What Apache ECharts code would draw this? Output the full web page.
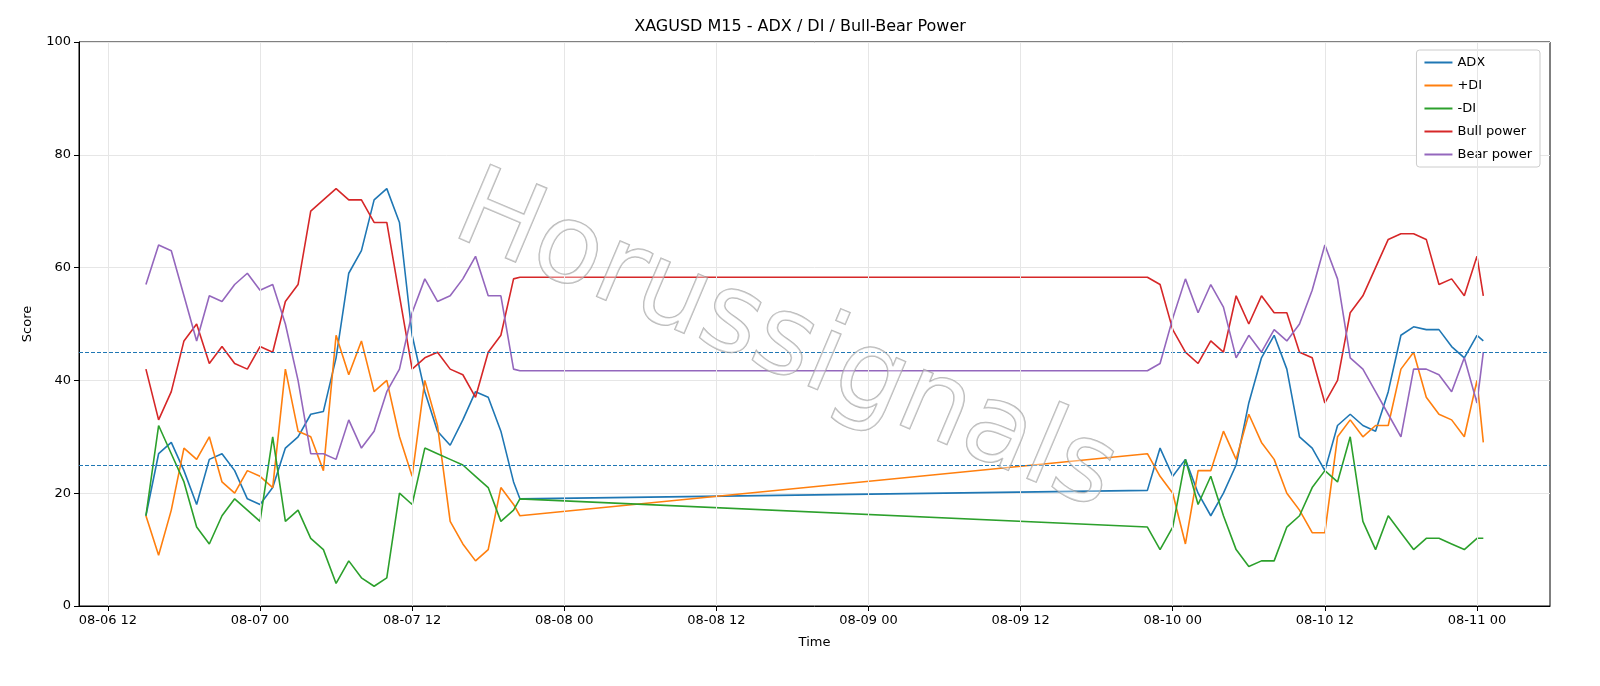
<!DOCTYPE html>
<html><head><meta charset="utf-8">
<script src="https://cdn.jsdelivr.net/npm/echarts@6/dist/echarts.min.js"></script>
<style>html,body{margin:0;padding:0;background:#fff}#c{width:1600px;height:686px}</style>
</head><body><div id="c"></div>
<script>
// hours since 2025-08-06 00:00
const hours = [15,16,17,18,19,20,21,22,23,24,25,26,27,28,29,30,31,32,33,34,35,36,37,38,39,40,41,42,43,44,44.5,
  94,95,96,97,98,99,100,101,102,103,104,105,106,107,108,109,110,111,112,113,114,115,116,117,118,119,120,120.5];
const tickHours = [12,24,36,48,60,72,84,96,108,120];
const adx = [16,27,29,24,18,26,27,24,19,18,21,28,30,34,34.5,44,59,63,72,74,68,48,38,31,28.5,33,38,37,31,22,19,
  20.5,28,23,26,20,16,20,25,36,44,48,42,30,28,24,32,34,32,31,38,48,49.5,49,49,46,44,48,47];
const plusDI = [16,9,17,28,26,30,22,20,24,23,21,42,31,30,24,48,41,47,38,40,30,23,40,32,15,11,8,10,21,18,16,
  27,23,20,11,24,24,31,26,34,29,26,20,17,13,13,30,33,30,32,32,42,45,37,34,33,30,40,29];
const minusDI = [16,32,27,22,14,11,16,19,17,15,30,15,17,12,10,4,8,5,3.5,5,20,18,28,27,26,25,23,21,15,17,19,
  14,10,14,26,18,23,16,10,7,8,8,14,16,21,24,22,30,15,10,16,13,10,12,12,11,10,12,12];
const bull = [42,33,38,47,50,43,46,43,42,46,45,54,57,70,72,74,72,72,68,68,55,42,44,45,42,41,37,45,48,58,58.3,
  58.3,57,49,45,43,47,45,55,50,55,52,52,45,44,36,40,52,55,60,65,66,66,65,57,58,55,62,55];
const bear = [57,64,63,55,47,55,54,57,59,56,57,50,40,27,27,26,33,28,31,38,42,52,58,54,55,58,62,55,55,42,41.7,
  41.7,43,51,58,52,57,53,44,48,45,49,47,50,56,64,58,44,42,38,34,30,42,42,41,38,44,36,45];
const names = ['ADX','+DI','-DI','Bull power','Bear power'];
const colors = ['#1f77b4','#ff7f0e','#2ca02c','#d62728','#9467bd'];
const base = new Date(2025,7,6,0,0,0).getTime();
const H = 3600*1000;
const vals = [adx, plusDI, minusDI, bull, bear];
const pad = n => (n<10?'0':'')+n;
const series = vals.map((v,i) => ({
  name: names[i], type:'line', showSymbol:false, symbol:'none',
  data: v.map((y,j)=>[hours[j], y]),
  lineStyle:{color:colors[i], width:1.6}, itemStyle:{color:colors[i]}, z: 3,
  markLine: i===0 ? {silent:true, symbol:'none', label:{show:false},
    lineStyle:{color:'#1f77b4', type:[4,2], width:1.1}, data:[{yAxis:45},{yAxis:25}]} : undefined
}));
// vertical grid lines at the tick hours
series.push({type:'line', data:[], silent:true, z:1,
  markLine:{silent:true, symbol:'none', label:{show:false}, animation:false,
    lineStyle:{color:'#e6e6e6', type:'solid', width:1}, data: tickHours.map(h=>({xAxis:h}))}});
const chart = echarts.init(document.getElementById('c'));
chart.setOption({
  animation:false,
  title:{text:'XAGUSD M15 - ADX / DI / Bull-Bear Power', left:'center', top:14,
    textStyle:{fontFamily:'DejaVu Sans', fontSize:16, fontWeight:'normal', color:'#000'}},
  grid:{left:79, right:50, top:42, bottom:80, show:true, borderColor:'#000', borderWidth:1},
  legend:{orient:'vertical', right:60, top:50, itemWidth:28, itemHeight:2, itemGap:10, icon:'rect',
    backgroundColor:'#fff', borderColor:'#ccc', borderWidth:1, borderRadius:3, padding:[6,8,6,8],
    textStyle:{fontFamily:'DejaVu Sans', fontSize:13, color:'#000'}, data:names},
  xAxis:{type:'value', min: 9.72, max: 125.76,
    name:'Time', nameLocation:'middle', nameGap:30, nameTextStyle:{fontFamily:'DejaVu Sans', fontSize:13, color:'#000'},
    axisLine:{lineStyle:{color:'#000'}}, axisTick:{show:true, customValues: tickHours, lineStyle:{color:'#000'}},
    axisLabel:{color:'#000', fontFamily:'DejaVu Sans', fontSize:13, customValues: tickHours,
      formatter: v => { const d=new Date(base + v*H); return pad(d.getMonth()+1)+'-'+pad(d.getDate())+' '+pad(d.getHours()); }},
    splitLine:{show:false}},
  yAxis:{type:'value', min:0, max:100, interval:20,
    name:'Score', nameLocation:'middle', nameGap:45, nameTextStyle:{fontFamily:'DejaVu Sans', fontSize:13, color:'#000'},
    axisLine:{show:true, lineStyle:{color:'#000'}}, axisTick:{show:true, lineStyle:{color:'#000'}},
    axisLabel:{color:'#000', fontFamily:'DejaVu Sans', fontSize:13},
    splitLine:{show:true, lineStyle:{color:'#e6e6e6'}}},
  graphic:[{type:'text', x:785, y:345, rotation:-0.4, z:100, silent:true,
    style:{text:'Horussignals', x:0, y:0, align:'center', verticalAlign:'middle',
      font:'110px "DejaVu Sans"', fill:'rgba(255,255,255,0.35)', stroke:'rgba(150,150,150,0.7)', lineWidth:1.5,
      shadowColor:'rgba(0,0,0,0.25)', shadowBlur:3, shadowOffsetX:3, shadowOffsetY:3}}],
  series: series
});
</script></body></html>
